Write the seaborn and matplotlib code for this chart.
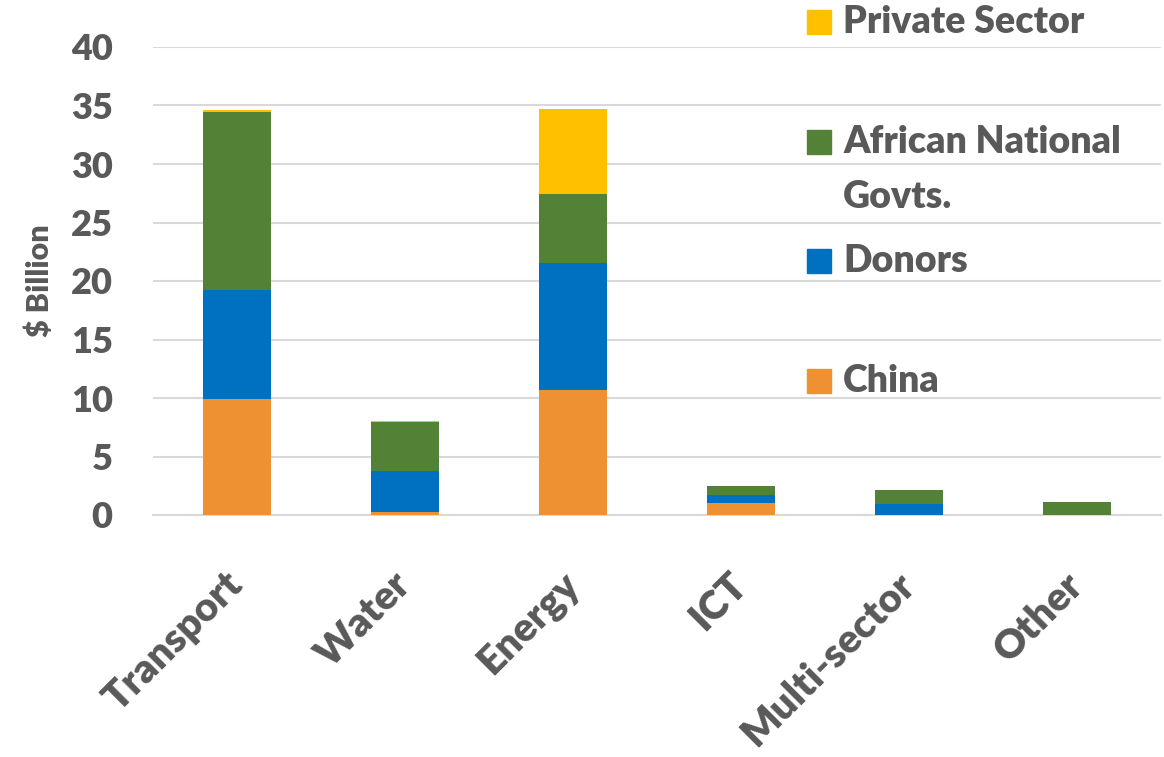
import matplotlib
matplotlib.use("Agg")
import matplotlib.pyplot as plt
from matplotlib.patches import Rectangle
import pandas as pd
import seaborn as sns

# values ($ billion)
sectors = ["Transport", "Water", "Energy", "ICT", "Multi-sector", "Other"]
china = [9.95, 0.25, 10.7, 1.0, 0.0, 0.0]
donors = [9.3, 3.55, 10.8, 0.7, 0.95, 0.0]
african_govts = [15.2, 4.15, 5.9, 0.75, 1.15, 1.1]
private_sector = [0.2, 0.1, 7.3, 0.0, 0.0, 0.0]

series_names = ["China", "Donors", "African National\nGovts.", "Private Sector"]
series_values = [china, donors, african_govts, private_sector]
colours = ["#ED9132", "#0070C0", "#538135", "#FFC000"]

GREY = "#595959"
WEIGHT = 800

sns.set_theme(style="white")
plt.rcParams["font.family"] = ["Lato", "DejaVu Sans"]
plt.rcParams["font.weight"] = WEIGHT

fig = plt.figure(figsize=(11.64, 7.57), dpi=100)
ax = fig.add_axes([153 / 1164, 1 - 515 / 757, 1008 / 1164, 468 / 757])

# stack the series from the bottom up (draw cumulative totals, tallest first)
bottom = [0.0] * len(sectors)
for i, (name, vals, col) in enumerate(zip(series_names, series_values, colours)):
    bottom = [b + v for b, v in zip(bottom, vals)]
    df = pd.DataFrame({"sector": sectors, "value": bottom})
    sns.barplot(data=df, x="sector", y="value", color=col, width=0.4,
                saturation=1, linewidth=0, ax=ax, zorder=3 - 0.1 * i)

ax.set_ylim(0, 40)
ax.set_xlim(-0.5, 5.5)
ax.set_yticks(range(0, 41, 5))
ax.yaxis.grid(True, color="#D9D9D9", linewidth=1.5, zorder=0)
ax.set_axisbelow(True)
for s in ["top", "right", "left"]:
    ax.spines[s].set_visible(False)
ax.spines["bottom"].set_color("#D9D9D9")
ax.spines["bottom"].set_linewidth(1.5)

ax.set_xlabel("")
ax.set_ylabel("$ Billion", fontsize=22, color=GREY, fontweight=WEIGHT, labelpad=12)
ax.tick_params(axis="y", length=0, pad=29, labelsize=26, labelcolor=GREY)
ax.tick_params(axis="x", length=0, pad=46, labelsize=29, labelcolor=GREY)
for lab in ax.get_yticklabels():
    lab.set_fontweight(WEIGHT)
for lab in ax.get_xticklabels():
    lab.set_rotation(45)
    lab.set_ha("right")
    lab.set_va("center")
    lab.set_rotation_mode("anchor")
    lab.set_fontweight(WEIGHT)

# legend, drawn in figure pixels like the Excel original
W, H = 1164, 757
legend_rows = [("Private Sector", colours[3], 22),
               ("African National", colours[2], 142),
               ("Donors", colours[1], 261),
               ("China", colours[0], 381)]
for text, col, yc in legend_rows:
    fig.patches.append(Rectangle((807 / W, 1 - (yc + 12) / H), 24 / W, 24 / H,
                                 transform=fig.transFigure, color=col))
    fig.text(843 / W, 1 - yc / H, text, fontsize=27, color=GREY,
             fontweight=WEIGHT, va="center", ha="left")
fig.text(843 / W, 1 - 197 / H, "Govts.", fontsize=27, color=GREY,
         fontweight=WEIGHT, va="center", ha="left")

fig.savefig("out.png", dpi=100)
